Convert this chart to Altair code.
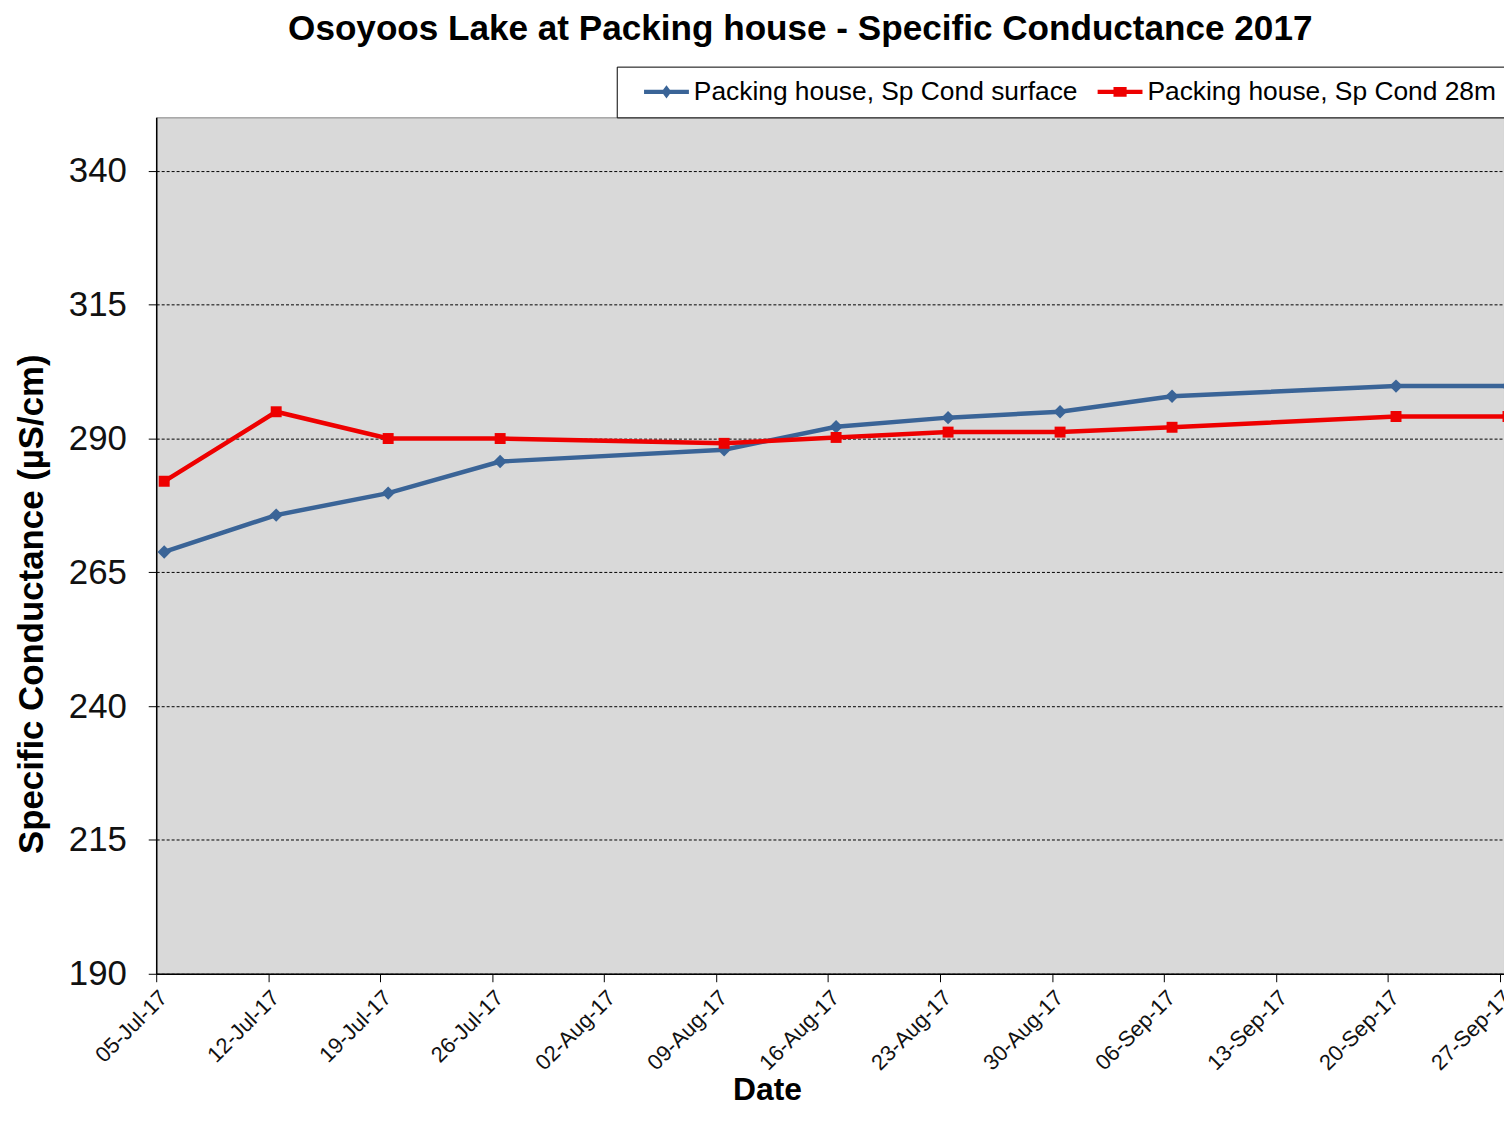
import altair as alt
import pandas as pd

# ---- data ----
dates = ["2017-07-05T12:00:00", "2017-07-12T12:00:00", "2017-07-19T12:00:00",
         "2017-07-26T12:00:00", "2017-08-09T12:00:00", "2017-08-16T12:00:00",
         "2017-08-23T12:00:00", "2017-08-30T12:00:00", "2017-09-06T12:00:00",
         "2017-09-20T12:00:00", "2017-09-27T12:00:00"]
surface = [268.8, 275.7, 279.8, 285.7, 287.9, 292.2, 293.9, 295.0, 297.9, 299.8, 299.8]
deep28 = [282.0, 295.0, 290.0, 290.0, 289.1, 290.2, 291.2, 291.2, 292.1, 294.1, 294.1]
series_names = ["Packing house, Sp Cond surface", "Packing house, Sp Cond 28m"]
series_colors = ["#3a6497", "#ee0000"]
y_ticks = [190, 215, 240, 265, 290, 315, 340]
x_tick_days = [(7, 5), (7, 12), (7, 19), (7, 26), (8, 2), (8, 9), (8, 16),
               (8, 23), (8, 30), (9, 6), (9, 13), (9, 20), (9, 27)]

rows = []
for d, v in zip(dates, surface):
    rows.append({"date": d, "value": v, "series": series_names[0]})
for d, v in zip(dates, deep28):
    rows.append({"date": d, "value": v, "series": series_names[1]})
df = pd.DataFrame(rows)

FONT = "Liberation Sans"

# legend glyphs: a short line with the series marker in its middle
legend_paths = [
    "M0.2,-0.2L4.3,-0.2L4.3,0.2L0.2,0.2Z M2.25,-0.6L2.7,0L2.25,0.6L1.8,0Z",
    "M0.2,-0.2L4.3,-0.2L4.3,0.2L0.2,0.2Z M1.65,-0.45L2.85,-0.45L2.85,0.45L1.65,0.45Z",
]

x_enc = alt.X(
    "date:T",
    title="Date",
    scale=alt.Scale(domain=[alt.DateTime(year=2017, month=7, date=5),
                            alt.DateTime(year=2017, month=9, date=27, hours=6)]),
    axis=alt.Axis(
        values=[alt.DateTime(year=2017, month=m, date=d) for m, d in x_tick_days],
        format="%d-%b-%y",
        labelAngle=315,
        labelFontSize=22,
        labelFont=FONT,
        labelColor="#111111",
        labelPadding=5,
        labelFlush=False,
        labelOverlap=False,
        grid=False,
        tickSize=8,
        tickColor="#000000",
        domainColor="#000000",
        domainWidth=1.5,
        titleFontSize=32,
        titleFont=FONT,
        titleFontWeight="bold",
        titleColor="#000000",
        titleX=614,
        titleY=126,
        titleAnchor="start",
        titleAlign="center",
        titleBaseline="alphabetic",
    ),
)

y_enc = alt.Y(
    "value:Q",
    title="Specific Conductance (µS/cm)",
    scale=alt.Scale(domain=[190, 350], nice=False, zero=False),
    axis=alt.Axis(
        values=y_ticks,
        labelFontSize=35,
        labelFont=FONT,
        labelColor="#111111",
        labelPadding=22,
        tickSize=8,
        tickColor="#000000",
        domainColor="#000000",
        domainWidth=1.5,
        grid=True,
        gridColor="#000000",
        gridDash=[3, 2],
        gridWidth=1,
        titleFontSize=35,
        titleFont=FONT,
        titleFontWeight="bold",
        titleColor="#000000",
        titlePadding=19,
        titleY=489,
    ),
)

color_scale = alt.Scale(domain=series_names, range=series_colors)

legend = alt.Legend(
    title=None,
    orient="none",
    legendX=463,
    legendY=-51,
    direction="horizontal",
    columns=2,
    fillColor="#ffffff",
    strokeColor="#000000",
    padding=12,
    labelFontSize=26.5,
    labelFont=FONT,
    labelColor="#000000",
    labelOffset=39,
    columnPadding=4,
    symbolSize=484,
    symbolStrokeWidth=0,
    symbolOpacity=1,
    labelLimit=600,
)

base = alt.Chart(df)

# legend-only layer (no rows drawn); carries the colour + glyph legend.
# It comes first so that its legend settings win when layers are merged.
legend_layer = base.transform_filter("false").mark_point(filled=True, clip=True).encode(
    x=x_enc,
    y=y_enc,
    color=alt.Color("series:N", scale=color_scale, legend=legend),
    shape=alt.Shape("series:N", scale=alt.Scale(domain=series_names, range=legend_paths), legend=legend),
)

lines = base.mark_line(strokeWidth=4.5, clip=True).encode(
    x=x_enc,
    y=y_enc,
    color=alt.Color("series:N", scale=color_scale, legend=None),
    detail="series:N",
)

pts_surface = base.transform_filter(
    alt.datum.series == series_names[0]
).mark_point(shape="diamond", filled=True, opacity=1, size=180, clip=True).encode(
    x=x_enc,
    y=y_enc,
    color=alt.Color("series:N", scale=color_scale, legend=None),
)

pts_deep = base.transform_filter(
    alt.datum.series == series_names[1]
).mark_square(filled=True, opacity=1, size=121, clip=True).encode(
    x=x_enc,
    y=y_enc,
    color=alt.Color("series:N", scale=color_scale, legend=None),
)

chart = (
    alt.layer(legend_layer, lines, pts_surface, pts_deep)
    .properties(
        width=1355,
        height=861,
        background="#ffffff",
        title=alt.TitleParams(
            "Osoyoos Lake at Packing house - Specific Conductance 2017",
            font=FONT,
            fontSize=35.3,
            fontWeight="bold",
            color="#000000",
            anchor="middle",
            dx=-30,
            offset=19,
        ),
        autosize=alt.AutoSizeParams(type="none"),
        padding={"left": 149, "top": 107, "right": 0, "bottom": 133},
    )
    .configure_view(fill="#d9d9d9", stroke="#808080", strokeWidth=1)
)

chart.save("out.html", embed_options={"renderer": "svg", "actions": False})
